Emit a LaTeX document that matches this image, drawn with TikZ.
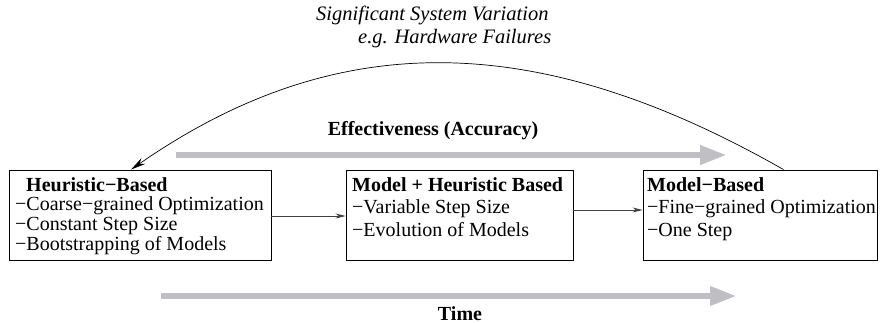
\documentclass[tikz,border=0pt]{standalone}
\usepackage{fontspec}
\setmainfont{Liberation Serif}
\usetikzlibrary{arrows.meta,calc}
\definecolor{trendgray}{RGB}{192,191,196}
\begin{document}
\begin{tikzpicture}[x=1pt,y=-1pt,
  stage/.style={draw=black, line width=0.9pt, inner sep=0pt, minimum height=90pt},
  txt/.style={anchor=base west, inner sep=0pt, font=\fontsize{20}{22}\selectfont},
  head/.style={txt, font=\fontsize{20}{22}\selectfont\bfseries},
  note/.style={anchor=base west, inner sep=0pt, font=\fontsize{20.5}{22}\selectfont\itshape},
  caption/.style={anchor=base, inner sep=0pt, font=\fontsize{20}{22}\selectfont\bfseries},
  link/.style={draw=black!75, line width=0.8pt, -{Stealth[length=10pt,width=5pt]}},
  feedback/.style={draw=black, line width=0.7pt, -{Stealth[length=15pt,width=7pt]}},
  trend/.style={draw=trendgray, line width=6.5pt, -{Triangle[length=27pt,width=18pt]}}]
\useasboundingbox (0,0) rectangle (880,323);

% three stages
\node[stage, minimum width=262pt] (b1) at (140,215) {};
\node[stage, minimum width=227pt] (b2) at (459.5,215) {};
\node[stage, minimum width=234pt] (b3) at (760,215) {};

% stage texts
\node[head] (h1) at (26,191) {Heuristic−Based};
\node[txt] (t11) at (15,210) {−Coarse−grained Optimization};
\node[txt] (t12) at (15,230) {−Constant Step Size};
\node[txt] (t13) at (15,250) {−Bootstrapping of Models};

\node[head] (h2) at (352,191) {Model + Heuristic Based};
\node[txt] (t21) at (352,213) {−Variable Step Size};
\node[txt] (t22) at (352,236) {−Evolution of Models};

\node[head] (h3) at (647,191) {Model−Based};
\node[txt] (t31) at (647,213) {−Fine−grained Optimization};
\node[txt] (t32) at (647,236) {−One Step};

% transitions between stages
\draw[link] ([yshift=-1pt]b1.east) -- ([yshift=-1pt]b2.west);
\draw[link] ([yshift=5pt]b2.east) -- ([yshift=5pt]b3.west);

% feedback on significant variation
\coordinate (fb0) at ($(b3.north west)!0.6!(b3.north east)$);
\coordinate (fb1) at ($(b1.north west)!0.466!(b1.north east)$);
\draw[feedback] (fb0) .. controls (535,28) and (335,28) .. (fb1);
\node[note] (n1) at (316,21) {Significant System Variation};
\node[note] (n2) at (358,44) {e.g. Hardware Failures};

% trends
\coordinate (e0) at (176,155);
\coordinate (e1) at (727,155);
\draw[trend] (e0) -- (e1);
\node[caption] (eff) at (433,136) {Effectiveness (Accuracy)};

\coordinate (m0) at (161,296);
\coordinate (m1) at (737,296);
\draw[trend] (m0) -- (m1);
\node[caption] (time) at (460,320) {Time};
\end{tikzpicture}
\end{document}
